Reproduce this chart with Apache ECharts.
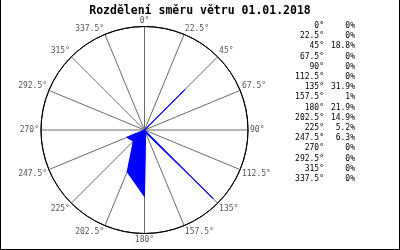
<!DOCTYPE html>
<html>
<head>
<meta charset="utf-8">
<script src="https://cdn.jsdelivr.net/npm/echarts@6/dist/echarts.min.js"></script>
<style>html,body{margin:0;padding:0;background:#fff}#c{width:400px;height:250px}</style>
</head>
<body>
<div id="c"></div>
<script>
const directions = [0, 22.5, 45, 67.5, 90, 112.5, 135, 157.5, 180, 202.5, 225, 247.5, 270, 292.5, 315, 337.5];
const shares = [0, 0, 18.8, 0, 0, 0, 31.9, 1, 21.9, 14.9, 5.2, 6.3, 0, 0, 0, 0];
const titleText = 'Rozdělení směru větru 01.01.2018';

const dirLabels = directions.map(d => d + '°');
const MONO = '"DejaVu Sans Mono", "Liberation Mono", monospace';

const legendItems = [];
directions.forEach((d, i) => {
  const y = 26 + 10.2 * i;
  legendItems.push({
    type: 'text', x: 324, y: y, silent: true,
    style: { text: d + '°', font: '8px ' + MONO, fill: '#000', align: 'right', verticalAlign: 'middle' }
  });
  legendItems.push({
    type: 'text', x: 355, y: y, silent: true,
    style: { text: shares[i] + '%', font: '8px ' + MONO, fill: '#000', align: 'right', verticalAlign: 'middle' }
  });
});
legendItems.push({
  type: 'polyline', silent: true,
  shape: { points: [[0.5, 0], [0.5, 249.5], [399.5, 249.5], [399.5, 0]] },
  style: { stroke: '#000', lineWidth: 1, fill: null }
});

const center = [144.5, 130];
const radius = 103.5;

const chart = echarts.init(document.getElementById('c'), null, { renderer: 'canvas' });
chart.setOption({
  animation: false,
  backgroundColor: '#fff',
  title: {
    text: titleText, left: 'center', top: 0,
    textStyle: { fontFamily: MONO, fontWeight: 'bold', fontSize: 11.5, color: '#000' }
  },
  polar: [
    { center: center, radius: radius },
    { center: center, radius: radius }
  ],
  angleAxis: [{
    polarIndex: 0,
    type: 'category', data: dirLabels, startAngle: 90, clockwise: true, boundaryGap: false,
    axisLine: { show: false },
    axisTick: { show: false },
    axisLabel: { margin: 2, color: '#555', fontFamily: MONO, fontSize: 8 },
    splitLine: { show: true, lineStyle: { color: '#6a6a6a', width: 1 } }
  }, {
    polarIndex: 1,
    type: 'value', min: 0, max: 360, interval: 1, startAngle: 90,
    axisLine: { show: true, lineStyle: { color: '#000', width: 1 } },
    axisTick: { show: false }, axisLabel: { show: false }, splitLine: { show: false }
  }],
  radiusAxis: [{
    polarIndex: 0,
    type: 'value', min: 0, max: 34,
    axisLine: { show: false }, axisTick: { show: false }, axisLabel: { show: false }, splitLine: { show: false }
  }, {
    polarIndex: 1,
    type: 'value', min: 0, max: 1, interval: 1,
    axisLine: { show: false }, axisTick: { show: false }, axisLabel: { show: false },
    splitLine: { show: true, lineStyle: { color: '#000', width: 1 } }
  }],
  series: [{
    type: 'line', coordinateSystem: 'polar', polarIndex: 0, data: shares,
    symbol: 'none', smooth: false,
    lineStyle: { color: '#0000ff', width: 1 },
    areaStyle: { color: '#0000ff', opacity: 1 }
  }],
  graphic: legendItems
});
</script>
</body>
</html>
